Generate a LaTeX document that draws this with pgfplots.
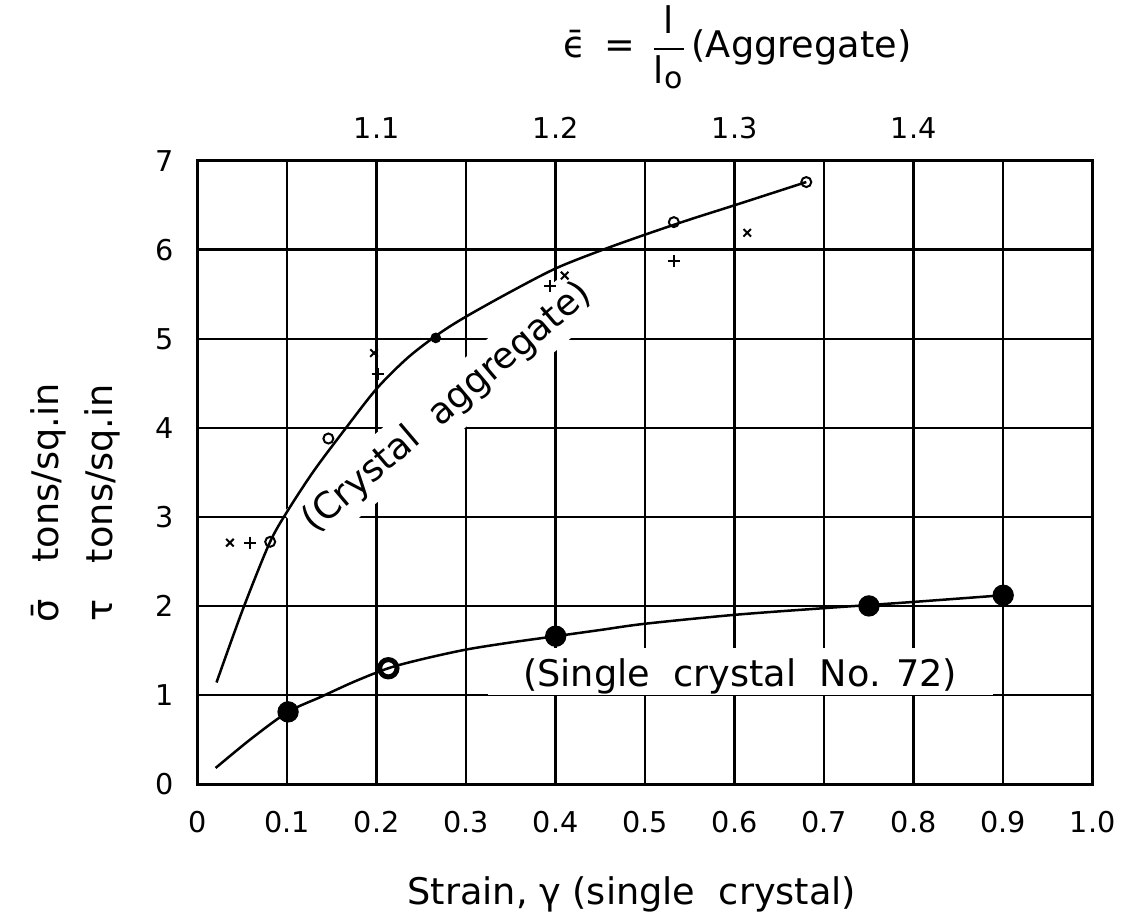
\documentclass[border=0pt]{standalone}
\usepackage{pgfplots}
\pgfplotsset{compat=1.18}
\usepackage{fontspec}
\setmainfont{DejaVu Sans}

\newcommand{\lbl}{\fontsize{11}{13}\selectfont}
\newcommand{\tck}{\fontsize{8.6}{10}\selectfont}

\begin{document}
\begin{tikzpicture}
\begin{axis}[name=ax, scale only axis, width=268.5pt, height=187pt,
  xmin=0, xmax=1, ymin=0, ymax=7,
  xtick={0,0.1,0.2,0.3,0.4,0.5,0.6,0.7,0.8,0.9,1},
  xticklabels={0,0.1,0.2,0.3,0.4,0.5,0.6,0.7,0.8,0.9,1.0},
  ytick={0,1,2,3,4,5,6,7}, yticklabels={0,1,2,3,4,5,6,7},
  grid=major, grid style={black, line width=0.75pt},
  axis line style={line width=0.9pt},
  major tick length=0pt,
  tick label style={font=\tck},
  xticklabel style={yshift=-4.5pt},
  yticklabel style={xshift=-3.6pt},
  clip=false]

% white gaps in the grid behind the labels
\node[rotate=40.3, fill=white, minimum width=116pt, minimum height=16pt,
      inner sep=0pt, font=\fontsize{10.9}{13}\selectfont] at (axis cs:0.279,4.225) {(Crystal\ \ aggregate)};
\fill[white] (axis cs:0.324,1.0) rectangle (axis cs:0.889,1.53);
\node[anchor=base, font=\lbl, inner sep=0pt] at (axis cs:0.606,1.09) {(Single\ \ crystal\ \ No. 72)};

% crystal aggregate
\addplot[line width=0.75pt, smooth] coordinates {
  (0.021,1.14) (0.050,1.95) (0.080,2.70) (0.100,3.06) (0.130,3.52)
  (0.165,3.99) (0.200,4.44) (0.235,4.79) (0.270,5.06) (0.300,5.25)
  (0.350,5.53) (0.400,5.79) (0.450,5.99) (0.500,6.17) (0.550,6.34)
  (0.600,6.50) (0.680,6.76)};
\addplot[only marks, mark=o, mark size=1.5pt, mark options={line width=0.6pt}] coordinates {
  (0.081,2.72) (0.146,3.88) (0.532,6.31) (0.680,6.76)};
\addplot[only marks, mark=*, mark size=1.4pt] coordinates {(0.266,5.01)};
\addplot[only marks, mark=+, mark size=1.8pt, mark options={line width=0.6pt}] coordinates {
  (0.058,2.71) (0.201,4.61) (0.394,5.59) (0.532,5.87)};
\addplot[only marks, mark=x, mark size=1.6pt, mark options={line width=0.6pt}] coordinates {
  (0.036,2.71) (0.197,4.84) (0.410,5.71) (0.614,6.19)};

% single crystal No. 72
\addplot[line width=0.75pt, smooth] coordinates {
  (0.020,0.18) (0.060,0.51) (0.101,0.81) (0.138,0.98) (0.175,1.15)
  (0.213,1.30) (0.250,1.40) (0.300,1.51) (0.350,1.59) (0.400,1.66)
  (0.450,1.73) (0.500,1.80) (0.600,1.90) (0.700,1.975) (0.750,2.01)
  (0.800,2.045) (0.900,2.12)};
\addplot[only marks, mark=*, mark size=3pt] coordinates {
  (0.101,0.81) (0.400,1.66) (0.750,2.00) (0.900,2.12)};
\addplot[only marks, mark=o, mark size=2.6pt, mark options={line width=1.5pt}] coordinates {
  (0.213,1.30)};

% axis labels
\node[anchor=base, font=\lbl] at (rel axis cs:0.485,-0.194) {Strain, γ (single\ \ crystal)};
\node[rotate=90, font=\lbl] at (rel axis cs:-0.167,0.451) {σ̄\hspace{1em}tons/sq.in};
\node[rotate=90, font=\lbl] at (rel axis cs:-0.106,0.451) {τ\hspace{1em}tons/sq.in};
\node[anchor=base west, font=\lbl, inner sep=0pt] at (rel axis cs:0.408,1.1648)
  {ϵ̄\hspace{0.5em}=\hspace{0.4em}$\displaystyle\frac{\mbox{l}}{\mbox{l}_{\mbox{\small o}}}$\hspace{0.1em}(Aggregate)};
\end{axis}

\begin{axis}[scale only axis, width=268.5pt, height=187pt,
  xmin=1, xmax=1.5, ymin=0, ymax=7,
  axis x line*=top, axis y line=none,
  xtick={1.1,1.2,1.3,1.4}, xticklabels={1.1,1.2,1.3,1.4},
  major tick length=0pt, axis line style={draw=none},
  tick label style={font=\tck},
  xticklabel style={yshift=3pt}]
\end{axis}

\pgfresetboundingbox
\path (ax.south west) ++(-59.31pt,-41.4pt) rectangle ++(337.2pt,276.6pt);
\end{tikzpicture}
\end{document}
